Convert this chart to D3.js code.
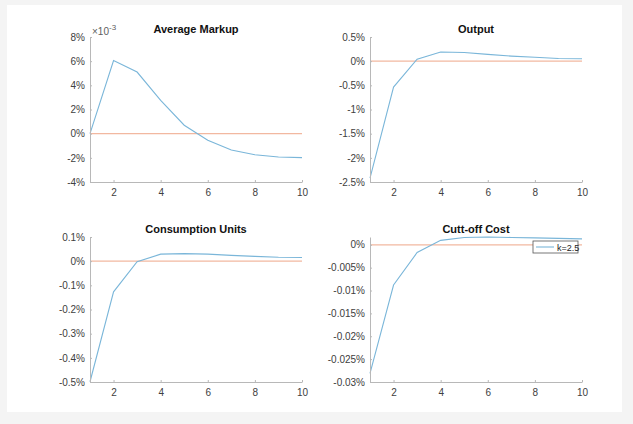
<!DOCTYPE html>
<html>
<head>
<meta charset="utf-8">
<script src="https://cdn.jsdelivr.net/npm/d3@7"></script>
<style>
  html, body { margin: 0; padding: 0; background: #f4f4f4; }
  svg { display: block; }
  text { font-family: "Liberation Sans", Arial, Helvetica, sans-serif; }
</style>
</head>
<body>
<svg id="chart" width="633" height="424"></svg>
<script>
// Impulse responses over 10 periods (percent deviations)
const periods = [1, 2, 3, 4, 5, 6, 7, 8, 9, 10];
const xTicks = [2, 4, 6, 8, 10];

// Average markup, in units of 10^-3 percent
const markup = [0, 6.05, 5.1, 2.75, 0.7, -0.55, -1.35, -1.75, -1.93, -1.98];
const markupTicks = [-4, -2, 0, 2, 4, 6, 8];
const markupTickLabels = ["-4%", "-2%", "0%", "2%", "4%", "6%", "8%"];

const output = [-2.42, -0.535, 0.04, 0.19, 0.18, 0.14, 0.105, 0.08, 0.055, 0.05];
const outputTicks = [-2.5, -2, -1.5, -1, -0.5, 0, 0.5];
const outputTickLabels = ["-2.5%", "-2%", "-1.5%", "-1%", "-0.5%", "0%", "0.5%"];

const consumption = [-0.499, -0.127, -0.002, 0.029, 0.031, 0.029, 0.024, 0.02, 0.016, 0.015];
const consumptionTicks = [-0.5, -0.4, -0.3, -0.2, -0.1, 0, 0.1];
const consumptionTickLabels = ["-0.5%", "-0.4%", "-0.3%", "-0.2%", "-0.1%", "0%", "0.1%"];

const cutoff = [-0.0281, -0.0088, -0.0017, 0.00096, 0.0016, 0.0017, 0.0016, 0.0015, 0.0014, 0.0013];
const cutoffTicks = [-0.03, -0.025, -0.02, -0.015, -0.01, -0.005, 0];
const cutoffTickLabels = ["-0.03%", "-0.025%", "-0.02%", "-0.015%", "-0.01%", "-0.005%", "0%"];

const legendLabel = "k=2.5";

const lineColor = "#7ab6d9";
const zeroColor = "#f2b8a0";
const axisColor = "#b8b8b8";
const textColor = "#404040";

const svg = d3.select("#chart");

// white figure area
svg.append("rect")
  .attr("x", 7).attr("y", 5)
  .attr("width", 615).attr("height", 407)
  .attr("fill", "#ffffff");

const panels = [
  { title: "Average Markup", values: markup, ticks: markupTicks, labels: markupTickLabels,
    domain: [-4, 8], left: 90, top: 37, exponent: true },
  { title: "Output", values: output, ticks: outputTicks, labels: outputTickLabels,
    domain: [-2.5, 0.5], left: 370, top: 37 },
  { title: "Consumption Units", values: consumption, ticks: consumptionTicks, labels: consumptionTickLabels,
    domain: [-0.5, 0.1], left: 90, top: 237 },
  { title: "Cutt-off Cost", values: cutoff, ticks: cutoffTicks, labels: cutoffTickLabels,
    domain: [-0.03, 0.0017], left: 370, top: 237, legend: true }
];

const W = 212, H = 145;

panels.forEach(p => {
  const g = svg.append("g").attr("transform", `translate(${p.left},${p.top})`);
  const x = d3.scaleLinear().domain([1, 10]).range([0, W]);
  const y = d3.scaleLinear().domain(p.domain).range([H, 0]);

  // zero reference line
  g.append("line")
    .attr("x1", x(1)).attr("x2", x(10))
    .attr("y1", y(0)).attr("y2", y(0))
    .attr("stroke", zeroColor).attr("stroke-width", 1.2);

  // response line
  const line = d3.line().x((d, i) => x(periods[i])).y(d => y(d));
  g.append("path")
    .datum(p.values)
    .attr("d", line)
    .attr("fill", "none")
    .attr("stroke", lineColor)
    .attr("stroke-width", 1.1);

  // x axis
  const xAxis = g.append("g")
    .attr("transform", `translate(0,${H})`)
    .call(d3.axisBottom(x).tickValues(xTicks).tickSizeInner(-2).tickSizeOuter(0).tickPadding(7));
  // y axis
  const labelMap = new Map(p.ticks.map((t, i) => [t, p.labels[i]]));
  const yAxis = g.append("g")
    .call(d3.axisLeft(y).tickValues(p.ticks).tickFormat(t => labelMap.get(t))
      .tickSizeInner(-2).tickSizeOuter(0).tickPadding(5));

  [xAxis, yAxis].forEach(a => {
    a.select(".domain").attr("stroke", axisColor);
    a.selectAll(".tick line").attr("stroke", axisColor);
    a.selectAll(".tick text").attr("fill", textColor).attr("font-size", 10);
  });

  // title
  g.append("text")
    .attr("x", W / 2).attr("y", -4)
    .attr("text-anchor", "middle")
    .attr("font-size", 11).attr("font-weight", "bold")
    .attr("fill", "#111")
    .text(p.title);

  if (p.exponent) {
    const t = g.append("text")
      .attr("x", 2).attr("y", -2)
      .attr("font-size", 10).attr("fill", "#606060");
    t.append("tspan").text("\u00d710");
    t.append("tspan").attr("dy", -5).attr("font-size", 8).text("-3");
  }

  if (p.legend) {
    const lg = g.append("g").attr("transform", `translate(${W - 49},4)`);
    lg.append("rect")
      .attr("width", 45).attr("height", 12)
      .attr("fill", "#fff").attr("stroke", "#555").attr("stroke-width", 0.8);
    lg.append("line")
      .attr("x1", 3).attr("x2", 21).attr("y1", 6).attr("y2", 6)
      .attr("stroke", lineColor).attr("stroke-width", 1.1);
    lg.append("text")
      .attr("x", 24).attr("y", 9.5)
      .attr("font-size", 9).attr("fill", "#222")
      .text(legendLabel);
  }
});
</script>
</body>
</html>
